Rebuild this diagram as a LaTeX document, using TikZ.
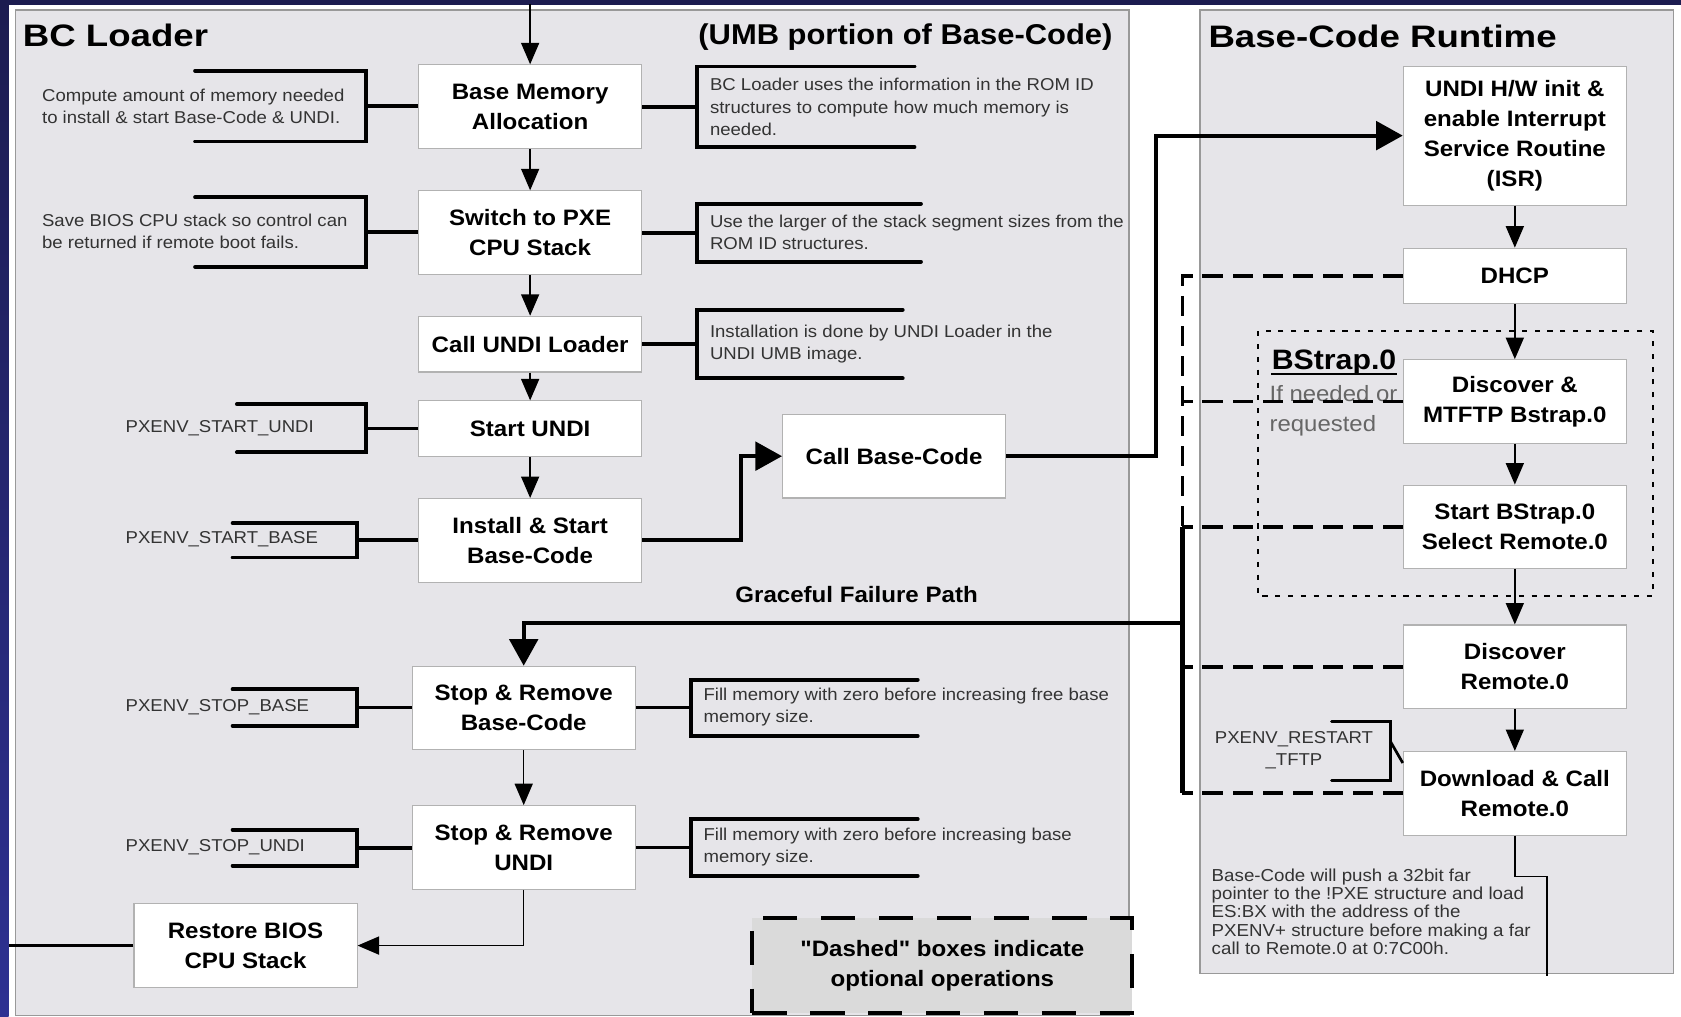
\documentclass[tikz,border=0pt]{standalone}
\usepackage{fontspec}
\setmainfont{Liberation Sans}[FakeStretch=1.08, Ligatures=TeXOff]
\newfontfamily\titlefont{Liberation Sans}[FakeStretch=1.18]
\usetikzlibrary{arrows.meta, positioning}
\definecolor{navy}{HTML}{1C1C50}
\definecolor{stripblue}{HTML}{2E3192}
\definecolor{panelgray}{HTML}{E6E5E9}
\definecolor{legendgray}{HTML}{DADADA}

\begin{document}
\begin{tikzpicture}[
        x=0.025cm, y=-0.025cm,
        panel/.style={draw=black!40, fill=panelgray, line width=1pt},
        stepbox/.style={draw=black!30, fill=white, line width=0.7pt, align=center, inner sep=2pt,
                font=\bfseries\fontsize{14.8}{19.9}\selectfont, minimum width=5.2cm, minimum height=1.95cm},
        shortbox/.style={stepbox, minimum height=1.3cm},
        annot/.style={anchor=west, align=left, inner sep=0pt, text=black!80, font=\fontsize{11.4}{14.9}\selectfont},
        heading/.style={anchor=west, inner sep=0pt, font=\titlefont\bfseries\fontsize{20.6}{24}\selectfont},
        bracket/.style={line width=2.6pt, line cap=round},
        link/.style={line width=2.6pt},
        midlink/.style={line width=1.8pt},
        flow/.style={line width=1pt, -{Triangle[length=0.5cm, width=0.42cm]}},
        bigflow/.style={line width=2.8pt, -{Triangle[length=0.62cm, width=0.66cm]}},
        optional/.style={line width=2.6pt, dash pattern=on 0.47cm off 0.23cm},
        dotframe/.style={line width=1.6pt, dash pattern=on 3.4pt off 5.1pt}
    ]

    \useasboundingbox (0,0) rectangle (1568,948);
    \fill[navy] (0,0) rectangle (1568,5);
    \shade[top color=navy, bottom color=stripblue] (0,0) rectangle (8,948);

    % panels
    \draw[panel] (14.5,9.5) rectangle (1053,947);
    \draw[panel] (1119.5,9.5) rectangle (1561,908);
    \draw[dotframe] (1173.6,309) rectangle (1542,556);

    \node[heading] (bcl) at (21,33) {BC Loader};
    \node[heading, anchor=east, font=\bfseries\fontsize{19}{22}\selectfont] (umb) at (1038,35) {(UMB portion of Base-Code)};
    \node[heading] (bcr) at (1127,34) {Base-Code Runtime};

    % BC loader steps
    \node[stepbox] (bma) at (494.5,99.5) {Base Memory\\Allocation};
    \node[stepbox] (stk) at (494.5,217) {Switch to PXE\\CPU Stack};
    \node[shortbox] (uld) at (494.5,321) {Call UNDI Loader};
    \node[shortbox] (sun) at (494.5,400) {Start UNDI};
    \node[stepbox] (isb) at (494.5,504) {Install \& Start\\Base-Code};
    \node[stepbox] (cbc) at (834,425.5) {Call Base-Code};
    \node[stepbox] (srb) at (488.5,660.5) {Stop \& Remove\\Base-Code};
    \node[stepbox] (sru) at (488.5,790.5) {Stop \& Remove\\UNDI};
    \node[stepbox] (rbs) at (229,882) {Restore BIOS\\CPU Stack};

    % runtime steps
    \node[stepbox, minimum height=3.24cm] (isr) at (1413,126.5) {UNDI H/W init \&\\enable Interrupt\\Service Routine\\(ISR)};
    \node[shortbox] (dhcp) at (1413,257.5) {DHCP};
    \node[stepbox] (dmb) at (1413,374.5) {Discover \&\\MTFTP Bstrap.0};
    \node[stepbox] (sbs) at (1413,491.5) {Start BStrap.0\\Select Remote.0};
    \node[stepbox] (drm) at (1413,622) {Discover\\Remote.0};
    \node[stepbox] (dcr) at (1413,740) {Download \& Call\\Remote.0};

    \node[anchor=base west, inner sep=0pt, font=\bfseries\fontsize{18.6}{22}\selectfont] (bsl) at (1186,345) {BStrap.0};
    \draw[line width=1.6pt] ([yshift=-2.6pt]bsl.base west) -- ([yshift=-2.6pt]bsl.base east);
    \node[annot, text=black!60, font=\fontsize{14.7}{19.9}\selectfont] (bsn) at (1184,383) {If needed or\\requested};

    % notes, left side
    \node[annot] (n-mem) at (39,99) {Compute amount of memory needed\\to install \& start Base-Code \& UNDI.};
    \node[annot] (n-bios) at (39,216) {Save BIOS CPU stack so control can\\be returned if remote boot fails.};
    \node[annot] (n-su) at (117,399) {PXENV\_START\_UNDI};
    \node[annot] (n-sb) at (117,503) {PXENV\_START\_BASE};
    \node[annot] (n-pb) at (117,660) {PXENV\_STOP\_BASE};
    \node[annot] (n-pu) at (117,790) {PXENV\_STOP\_UNDI};

    \draw[bracket] (182,66) -| coordinate[pos=0.75] (b-mem) (341,132) -- (182,132);
    \draw[bracket] (182,184) -| coordinate[pos=0.75] (b-bios) (341,249) -- (182,249);
    \draw[bracket] (221,377) -| coordinate[pos=0.75] (b-su) (341,422) -- (221,422);
    \draw[bracket] (217,488) -| coordinate[pos=0.75] (b-sb) (333,520) -- (217,520);
    \draw[bracket] (217,643) -| coordinate[pos=0.75] (b-pb) (333,677) -- (217,677);
    \draw[bracket] (217,774) -| coordinate[pos=0.75] (b-pu) (333,807.5) -- (217,807.5);
    \draw[link] (b-mem) -- (b-mem -| bma.west);
    \draw[link] (b-bios) -- (b-bios -| stk.west);
    \draw[midlink] (b-su) -- (b-su -| sun.west);
    \draw[link] (b-sb) -- (b-sb -| isb.west);
    \draw[midlink] (b-pb) -- (b-pb -| srb.west);
    \draw[link] (b-pu) -- (b-pu -| sru.west);

    % notes, right side
    \node[annot] (n-rom) at (662,100) {BC Loader uses the information in the ROM ID\\structures to compute how much memory is\\needed.};
    \node[annot] (n-seg) at (662,216.5) {Use the larger of the stack segment sizes from the\\ROM ID structures.};
    \node[annot] (n-inst) at (662,321) {Installation is done by UNDI Loader in the\\UNDI UMB image.};
    \node[annot] (n-free) at (656,659.5) {Fill memory with zero before increasing free base\\memory size.};
    \node[annot] (n-base) at (656,790) {Fill memory with zero before increasing base\\memory size.};

    \draw[bracket] (853,62) -| coordinate[pos=0.75] (b-rom) (650,137) -- (853,137);
    \draw[bracket] (859,190) -| coordinate[pos=0.75] (b-seg) (650,244) -- (859,244);
    \draw[bracket] (842,289) -| coordinate[pos=0.75] (b-inst) (650,353) -- (842,353);
    \draw[bracket] (856,634) -| coordinate[pos=0.75] (b-free) (644.5,686.5) -- (856,686.5);
    \draw[bracket] (856,764) -| coordinate[pos=0.75] (b-base) (644.5,817) -- (856,817);
    \draw[link] (b-rom) -- (b-rom -| bma.east);
    \draw[link] (b-seg) -- (b-seg -| stk.east);
    \draw[link] (b-inst) -- (b-inst -| uld.east);
    \draw[midlink] (b-free) -- (b-free -| srb.east);
    \draw[link] (b-base) -- (b-base -| sru.east);

    \node[annot, align=center, anchor=center] (n-rt) at (1207,700) {PXENV\_RESTART\\\_TFTP};
    \draw[bracket, line width=2pt] (1242,673) -| coordinate[pos=0.67] (b-rt) (1297,728) -- (1242,728);
    \draw[midlink] (b-rt) -- ([yshift=-0.28cm]dcr.north west);
    \node[annot, font=\fontsize{11.5}{12.2}\selectfont] (n-far) at (1130,850.5) {Base-Code will push a 32bit far\\pointer to the !PXE structure and load\\ES:BX with the address of the\\PXENV+ structure before making a far\\call to Remote.0 at 0:7C00h.};

    % main flow
    \coordinate (entry) at (494.5,4);
    \draw[flow] (entry) -- (bma);
    \draw[flow] (bma) -- (stk);
    \draw[flow] (stk) -- (uld);
    \draw[flow] (uld) -- (sun);
    \draw[flow] (sun) -- (isb);
    \draw[bigflow] (isb.east) -- ++(92,0) |- (cbc.west);
    \draw[bigflow] (cbc.east) -- ++(140,0) |- (isr.west);
    \draw[flow] (isr) -- (dhcp);
    \draw[flow] (dhcp) -- (dmb);
    \draw[flow] (dmb) -- (sbs);
    \draw[flow] (sbs) -- (drm);
    \draw[flow] (drm) -- (dcr);
    \coordinate (exit) at (1443,910);
    \draw[line width=1pt] (dcr.south) -- ++(0,38) -| (exit);

    % optional operations and failure path
    \coordinate (bus) at (1103,0);
    \draw[optional] (dhcp.west) -- (dhcp.west -| bus) -- (sbs.west -| bus);
    \draw[optional] (dmb.west) -- (dmb.west -| bus);
    \draw[optional] (sbs.west) -- (sbs.west -| bus);
    \draw[optional] (drm.west) -- (drm.west -| bus);
    \draw[optional] (dcr.west) -- (dcr.west -| bus);
    \draw[line width=2.8pt] (sbs.west -| bus) -- (dcr.west -| bus);
    \coordinate (fail) at (1103,581);
    \draw[bigflow] (fail) -| (srb.north);
    \node[font=\bfseries\fontsize{14.8}{18}\selectfont] (gfl) at (799,555) {Graceful Failure Path};

    \draw[flow] (srb) -- (sru);
    \draw[flow] (sru.south) |- (rbs.east);
    \coordinate (bios) at (8,882);
    \draw[line width=2pt] (rbs.west) -- (bios);

    \node[stepbox, fill=legendgray, draw=black, line width=2.8pt, dash pattern=on 0.8cm off 0.55cm,
        minimum width=8.86cm, minimum height=2.225cm] (legend) at (879,900.5) {"Dashed" boxes indicate\\optional operations};
\end{tikzpicture}
\end{document}
